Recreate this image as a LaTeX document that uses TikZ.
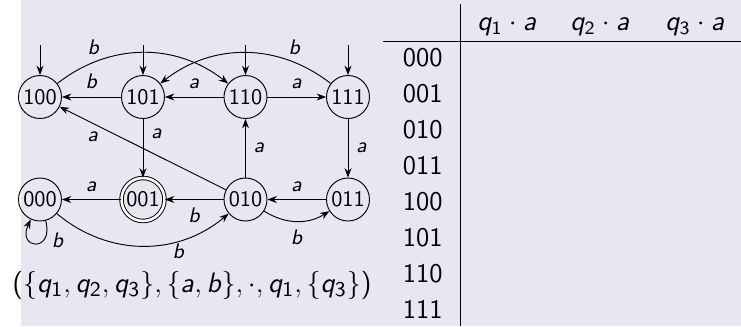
\documentclass[tikz,border=0pt]{standalone}
\usepackage{tikz}
\usetikzlibrary{positioning, arrows.meta}
\usepackage{xcolor}
\definecolor{slidebg}{RGB}{231, 231, 242}
% sans serif math, as on the slide
\DeclareSymbolFont{sfletters}{OT1}{cmss}{m}{sl}
\SetSymbolFont{operators}{normal}{OT1}{cmss}{m}{n}
\DeclareMathSymbol{a}{\mathalpha}{sfletters}{`a}
\DeclareMathSymbol{b}{\mathalpha}{sfletters}{`b}
\DeclareMathSymbol{q}{\mathalpha}{sfletters}{`q}

\begin{document}
\begin{tikzpicture}[x=0.015cm, y=-0.015cm, font=\sffamily,
    >={Stealth[length=4pt, width=3pt]},
    st/.style={draw, circle, minimum size=0.645cm, inner sep=0pt,
               font=\sffamily\fontsize{9.5}{11}\selectfont},
    lbl/.style={font=\fontsize{9.5}{11}\selectfont},
    row/.style={anchor=east, inner sep=0pt,
                font=\sffamily\fontsize{11.5}{13}\selectfont},
    hd/.style={font=\fontsize{11.5}{13}\selectfont}]
  \useasboundingbox (0,0) rectangle (741,326);
  \fill[slidebg] (21,0) rectangle (741,326);

  % states
  \node[st] (s100) at (40, 97) {100};
  \node[st] (s101) at (143, 97) {101};
  \node[st] (s110) at (245.5, 97) {110};
  \node[st] (s111) at (348, 97) {111};
  \node[st] (s000) at (40, 199.5) {000};
  \node[st, double, double distance=1.1pt] (s001) at (143, 199.5) {001};
  \node[st] (s010) at (245.5, 199.5) {010};
  \node[st] (s011) at (348, 199.5) {011};

  % initial states
  \foreach \s in {100,101,110,111} {
    \coordinate[above=0.45cm of s\s] (i\s);
    \draw[->] (i\s) -- (s\s);
  }

  % transitions
  \draw[->] (s100) to[bend left=38] node[lbl, pos=0.22, above] {$b$} (s110);
  \draw[->] (s111) to[bend right=38] node[lbl, pos=0.22, above] {$b$} (s101);
  \draw[->] (s101) -- node[lbl, above] {$b$} (s100);
  \draw[->] (s110) -- node[lbl, above] {$a$} (s101);
  \draw[->] (s110) -- node[lbl, above] {$a$} (s111);
  \draw[->] (s101) -- node[lbl, right, pos=0.25] {$a$} (s001);
  \draw[->] (s010) -- node[lbl, below, pos=0.8] {$a$} (s100);
  \draw[->] (s010) -- node[lbl, right] {$a$} (s110);
  \draw[->] (s111) -- node[lbl, right] {$a$} (s011);
  \draw[->] (s001) -- node[lbl, above] {$a$} (s000);
  \draw[->] (s011) -- node[lbl, above] {$a$} (s010);
  \draw[->] (s010) -- node[lbl, below] {$b$} (s001);
  \draw[->] (s010) to[bend right=32] node[lbl, below] {$b$} (s011);
  \draw[->] (s000) to[bend right=40]
        node[lbl, pos=0.7, below, inner sep=1pt] {$b$} (s010);
  \draw[->] (s000) to[out=-75, in=-115, loop, min distance=5mm]
        node[lbl, right, pos=0.3] {$b$} (s000);

  \node[font=\fontsize{13.2}{15}\selectfont] (dfa) at (192, 285)
       {$(\{q_1, q_2, q_3\}, \{a, b\}, \cdot, q_1, \{q_3\})$};

  % table
  \draw (460,4) -- (460,326);
  \draw (383,41) -- (741,41);
  \node[hd] (h1) at (507, 27) {$q_1 \cdot a$};
  \node[hd] (h2) at (600, 27) {$q_2 \cdot a$};
  \node[hd] (h3) at (695, 27) {$q_3 \cdot a$};
  \foreach \r [count=\i from 0] in {000,001,010,011,100,101,110,111}
    \node[row] (r\r) at (443, {57.5+36*\i}) {\r};
\end{tikzpicture}
\end{document}
